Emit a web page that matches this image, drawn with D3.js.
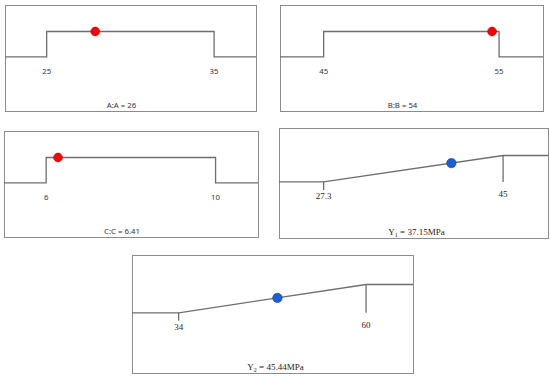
<!DOCTYPE html>
<meta charset="utf-8">
<style>
    body { margin: 0; background: #fff; }
    .box { fill: none; stroke: #8c8c8c; stroke-width: 1; }
    .ramp { fill: none; stroke: #6e6e6e; stroke-width: 1.3; }
    .fac text { font-family: "Noto Sans", sans-serif; font-size: 7.8px; fill: #333; }
    .res text { font-family: "Liberation Serif", serif; font-size: 9px; fill: #2a2218; }
</style>
<svg width="550" height="378"></svg>
<script src="https://d3js.org/d3.v7.min.js"></script>
<script>
    // factor panels (in range goal)
    let factors = ["A:A", "B:B", "C:C"];
    let factorLow = [25, 45, 6];
    let factorHigh = [35, 55, 10];
    let factorValue = ["26", "54", "6.41"];
    let factorMarker = [27.9, 54.6, 6.28];   // where the dot sits

    // response panels (maximize goal)
    let responses = ["1", "2"];
    let responseLow = [27.3, 34];
    let responseHigh = [45, 60];
    let responseValue = ["37.15", "45.44"];
    let responseMarker = [39.9, 47.7];
    let unit = "MPa";

    var svg = d3.select("svg");

    // panel boxes: x, y, w, h
    let boxes = [
        [5, 5, 251, 106],
        [280, 5, 263, 106],
        [4, 131, 254, 106],
        [279, 128, 269, 110],
        [132, 255, 281, 118]
    ];

    function panel(b) {
        let [x0, y0, w, h] = b;
        let x = d3.scaleLinear().range([x0 + 0.166 * w, x0 + 0.833 * w]);
        let y = d3.scaleLinear().domain([0, 1]).range([y0 + 0.49 * h, y0 + 0.25 * h]);
        return {x0, y0, w, h, x, y};
    }

    // factor panels
    factors.forEach(function (name, i) {
        let p = panel(boxes[i]);
        p.x.domain([factorLow[i], factorHigh[i]]);
        let g = svg.append("g").attr("class", "fac");
        g.append("rect").attr("class", "box")
            .attr("x", p.x0 + 0.5).attr("y", p.y0 + 0.5).attr("width", p.w).attr("height", p.h);

        let lo = factorLow[i], hi = factorHigh[i];
        let pts = [[p.x0, p.y(0)], [p.x(lo), p.y(0)], [p.x(lo), p.y(1)],
                   [p.x(hi), p.y(1)], [p.x(hi), p.y(0)], [p.x0 + p.w, p.y(0)]];
        g.append("path").attr("class", "ramp").attr("d", d3.line()(pts));

        g.selectAll(".lab").data([lo, hi]).enter().append("text")
            .attr("x", d => p.x(d))
            .attr("y", p.y(0) + 17)
            .attr("text-anchor", "middle")
            .text(d => d);

        g.append("text")
            .attr("x", p.x0 + p.w / 2 - 9)
            .attr("y", p.y0 + p.h - 3)
            .attr("text-anchor", "middle")
            .text(name + " = " + factorValue[i]);

        g.append("circle")
            .attr("cx", p.x(factorMarker[i]))
            .attr("cy", p.y(1))
            .attr("r", 4.4)
            .attr("fill", "#ff0000")
            .attr("stroke", "#a00000")
            .attr("stroke-width", 0.6);
    });

    // response panels
    responses.forEach(function (sub, i) {
        let p = panel(boxes[3 + i]);
        let lo = responseLow[i], hi = responseHigh[i];
        p.x.domain([lo, hi]);
        let g = svg.append("g").attr("class", "res");
        g.append("rect").attr("class", "box")
            .attr("x", p.x0 + 0.5).attr("y", p.y0 + 0.5).attr("width", p.w).attr("height", p.h);

        let pts = [[p.x0, p.y(0)], [p.x(lo), p.y(0)], [p.x(hi), p.y(1)], [p.x0 + p.w, p.y(1)]];
        g.append("path").attr("class", "ramp").attr("d", d3.line()(pts));

        // ticks
        g.append("line").attr("class", "ramp")
            .attr("x1", p.x(lo)).attr("x2", p.x(lo))
            .attr("y1", p.y(0)).attr("y2", p.y(0) + 8);
        g.append("line").attr("class", "ramp")
            .attr("x1", p.x(hi)).attr("x2", p.x(hi))
            .attr("y1", p.y(1)).attr("y2", p.y(0));

        g.append("text")
            .attr("x", p.x(lo)).attr("y", p.y(0) + 17)
            .attr("text-anchor", "middle").text(lo);
        g.append("text")
            .attr("x", p.x(hi)).attr("y", p.y(0) + 15)
            .attr("text-anchor", "middle").text(hi);

        let t = g.append("text")
            .attr("x", p.x0 + p.w / 2 + 3)
            .attr("y", p.y0 + p.h - 3)
            .attr("text-anchor", "middle");
        t.append("tspan").text("Y");
        t.append("tspan").attr("font-size", "6px").attr("dy", 2).text(sub);
        t.append("tspan").attr("dy", -2).text(" = " + responseValue[i] + unit);

        let d = (responseMarker[i] - lo) / (hi - lo);
        g.append("circle")
            .attr("cx", p.x(responseMarker[i]))
            .attr("cy", p.y(d))
            .attr("r", 4.7)
            .attr("fill", "#1a5fd6")
            .attr("stroke", "#0b3a8c")
            .attr("stroke-width", 0.6);
    });
</script>
